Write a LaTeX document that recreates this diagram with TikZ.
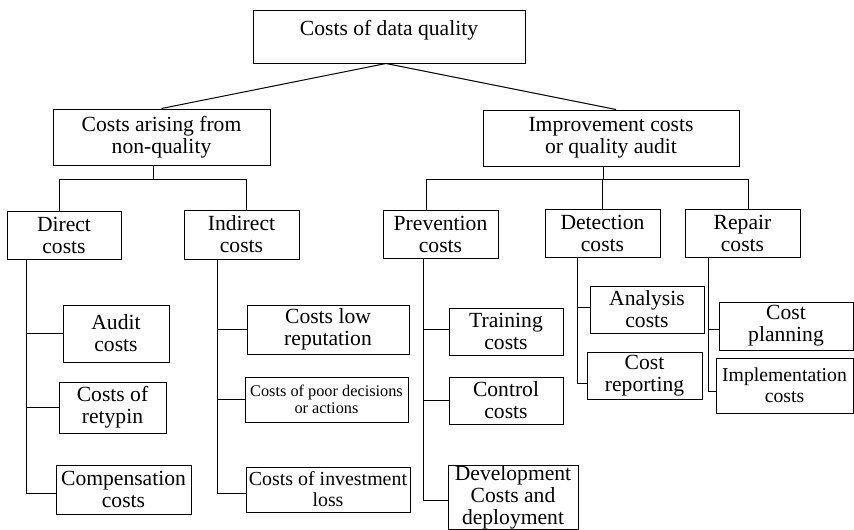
\documentclass[tikz,border=0pt]{standalone}
\usepackage{fontspec}
\setmainfont{Liberation Serif}

\begin{document}
\begin{tikzpicture}[x=1pt, y=-1pt,
  box/.style={draw, line width=1pt, align=center, inner sep=0pt, font=\fontsize{21.6}{22}\selectfont},
  link/.style={line width=1pt}]
\useasboundingbox (0,0) rectangle (854,530);

% root and the two main branches
\node[box, anchor=base, text height=21, text depth=24, inner ysep=4, minimum width=272] (root) at (389,35) {Costs of data quality};
\node[box, minimum width=217, minimum height=56] (nq) at (161.5,137) {Costs arising from\\non-quality};
\node[box, minimum width=256, minimum height=56] (imp) at (611,138) {Improvement costs\\or quality audit};

% second level
\node[box, minimum width=114, minimum height=48] (dir) at (64,235) {Direct\\costs};
\node[box, minimum width=115, minimum height=49] (ind) at (241.5,234.5) {Indirect\\costs};
\node[box, minimum width=115, minimum height=48] (prev) at (440.5,234) {Prevention\\costs};
\node[box, minimum width=115, minimum height=48] (det) at (602.5,233) {Detection\\costs};
\node[box, minimum width=115, minimum height=48] (rep) at (742.5,233) {Repair\\costs};

% leaves
\node[box, minimum width=106, minimum height=57] (audit) at (116,333.5) {Audit\\costs};
\node[box, minimum width=107, minimum height=51] (retyp) at (112.5,407.5) {Costs of\\retypin};
\node[box, minimum width=135, minimum height=49] (comp) at (123.5,489.5) {Compensation\\costs};

\node[box, minimum width=162, minimum height=49] (rept) at (328,329.5) {Costs low\\reputation};
\node[box, minimum width=163, minimum height=45, font=\fontsize{16.3}{17}\selectfont] (poor) at (326.5,399.5) {Costs of poor decisions\\or actions};
\node[box, minimum width=164, minimum height=45, font=\fontsize{19.9}{21}\selectfont] (invest) at (328,489.5) {Costs of investment\\loss};

\node[box, minimum width=114, minimum height=47] (train) at (506,331.5) {Training\\costs};
\node[box, minimum width=114, minimum height=47] (control) at (506,400.5) {Control\\costs};
\node[box, minimum width=130, minimum height=64] (devel) at (513,497) {Development\\Costs and\\deployment};

\node[box, minimum width=114, minimum height=47] (anal) at (647,309.5) {Analysis\\costs};
\node[box, minimum width=115, minimum height=47] (report) at (644.5,375.5) {Cost\\reporting};

\node[box, minimum width=134, minimum height=48] (plan) at (786,326) {Cost\\planning};
\node[box, minimum width=137, minimum height=55, font=\fontsize{19.7}{21}\selectfont] (impl) at (784.5,385.5) {Implementation\\costs};

% top links
\draw[link] ([xshift=-3]root.south) -- (nq.north);
\draw[link] ([xshift=-3]root.south) -- ([xshift=5]imp.north);

% elbow joints to the second level
\draw[link] ([xshift=-8]nq.south) -- ++(0,14) coordinate (nqj);
\draw[link] (nqj) -| ([xshift=-5]dir.north);
\draw[link] (nqj) -| ([xshift=4.5]ind.north);

\draw[link] ([xshift=-8]imp.south) -- ++(0,13) coordinate (impj);
\draw[link] (impj) -| ([xshift=-14.5]prev.north);
\draw[link] (impj) -| (det.north);
\draw[link] (impj) -| ([xshift=5.5]rep.north);

% spines down to the leaves
\draw[link] ([xshift=20]dir.south west) coordinate (dirs) |- ([yshift=-3.5]comp.west);
\draw[link] (audit.west) -- (audit.west -| dirs);
\draw[link] (retyp.west) -- (retyp.west -| dirs);

\draw[link] ([xshift=34]ind.south west) coordinate (inds) |- ([yshift=-3.5]invest.west);
\draw[link] (rept.west) -- (rept.west -| inds);
\draw[link] (poor.west) -- (poor.west -| inds);

\draw[link] ([xshift=41]prev.south west) coordinate (prevs) |- ([yshift=-3]devel.west);
\draw[link] ([yshift=2.5]train.west) -- ([yshift=2.5]train.west -| prevs);
\draw[link] (control.west) -- (control.west -| prevs);

\draw[link] ([xshift=33]det.south west) coordinate (dets) |- ([yshift=-7.5]report.west);
\draw[link] ([yshift=2.5]anal.west) -- ([yshift=2.5]anal.west -| dets);

\draw[link] ([xshift=24]rep.south west) coordinate (reps) |- ([yshift=-5.5]impl.west);
\draw[link] ([yshift=-3]plan.west) -- ([yshift=-3]plan.west -| reps);
\end{tikzpicture}
\end{document}
